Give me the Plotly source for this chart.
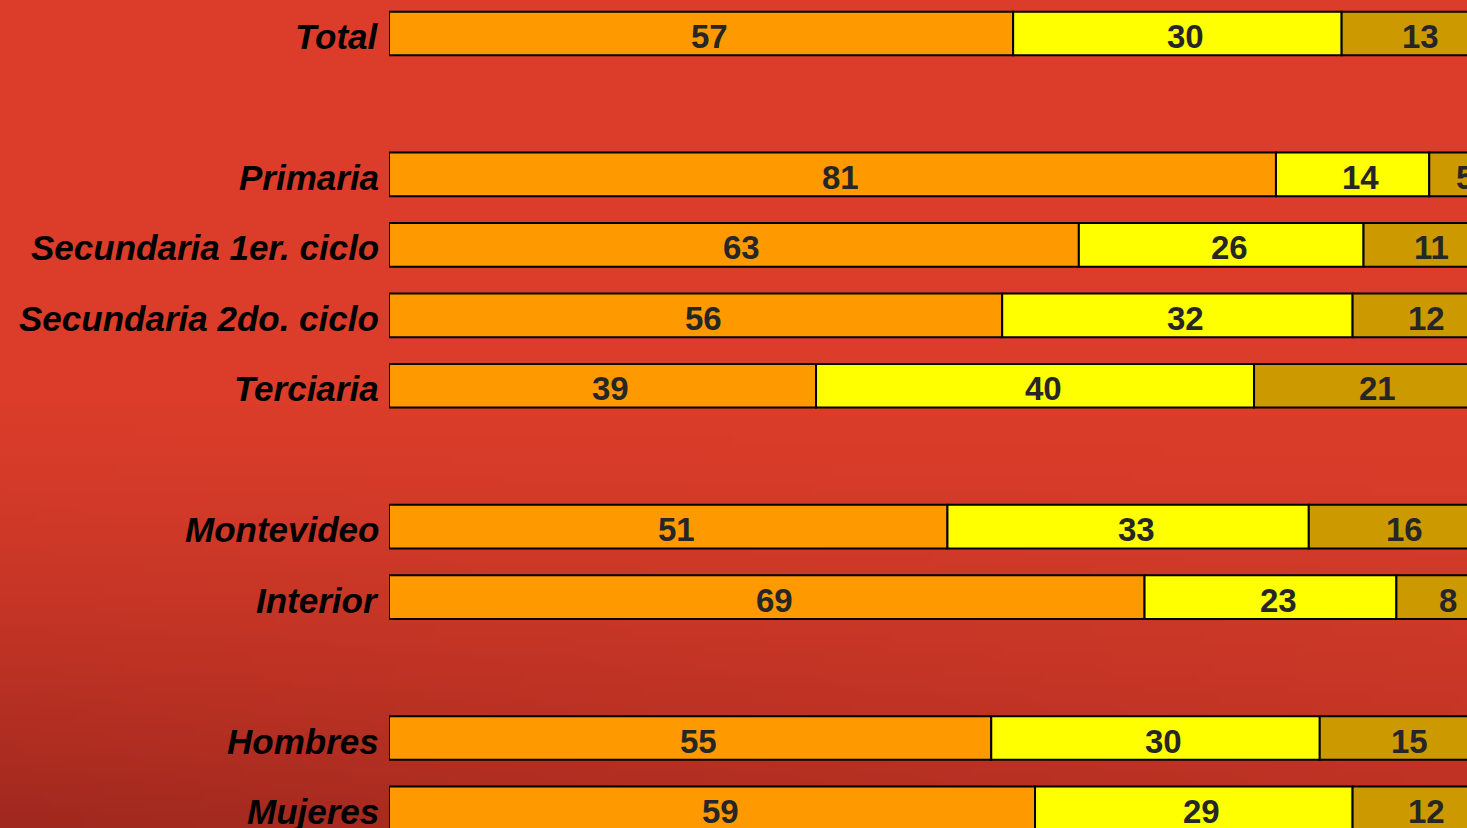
import base64
import struct
import zlib

import plotly.graph_objects as go

# Row groups (a blank row separates consecutive groups)
groups = [
    ["Total"],
    ["Primaria", "Secundaria 1er. ciclo", "Secundaria 2do. ciclo", "Terciaria"],
    ["Montevideo", "Interior"],
    ["Hombres", "Mujeres"],
]

# Percentages per row, in the same order as the labels above
serie_1 = [57, 81, 63, 56, 39, 51, 69, 55, 59]
serie_2 = [30, 14, 26, 32, 40, 33, 23, 30, 29]
serie_3 = [13, 5, 11, 12, 21, 16, 8, 15, 12]

series = [serie_1, serie_2, serie_3]
colors = ["#FF9900", "#FFFF00", "#CC9900"]

W, H = 1467, 828
LEFT = 389

labels, slots = [], []
pos = 0
for g in groups:
    for name in g:
        labels.append(name)
        slots.append(pos)
        pos += 1
    pos += 1  # blank row between groups


def gradient_png(w, h):
    """Small PNG of the red backdrop, darker toward the bottom-left."""
    top = (220, 61, 42)
    dark = (160, 40, 30)
    raw = bytearray()
    for j in range(h):
        raw.append(0)
        fy = j / (h - 1)
        vy = max(0.0, (fy - 0.45) / 0.55) ** 1.4
        for i in range(w):
            fx = i / (w - 1)
            t = min(1.0, vy * (1.0 - 0.45 * fx))
            for c in range(3):
                raw.append(int(round(top[c] + (dark[c] - top[c]) * t)))
    def chunk(tag, data):
        return (struct.pack(">I", len(data)) + tag + data
                + struct.pack(">I", zlib.crc32(tag + data) & 0xFFFFFFFF))
    png = b"\x89PNG\r\n\x1a\n"
    png += chunk(b"IHDR", struct.pack(">IIBBBBB", w, h, 8, 2, 0, 0, 0))
    png += chunk(b"IDAT", zlib.compress(bytes(raw), 9))
    png += chunk(b"IEND", b"")
    return "data:image/png;base64," + base64.b64encode(png).decode()


fig = go.Figure()
bases = [0] * len(labels)
annotations = []
for vals, col in zip(series, colors):
    fig.add_trace(go.Bar(
        y=slots, x=vals, base=bases, orientation="h",
        marker=dict(color=col, line=dict(color="#000000", width=2)),
        width=0.62, showlegend=False, hoverinfo="skip",
    ))
    for b, v, s in zip(bases, vals, slots):
        annotations.append(dict(
            x=b + v / 2, y=s, xref="x", yref="y", text=str(v),
            showarrow=False, xshift=8, yshift=-3,
            font=dict(family="Liberation Sans", size=33, color="#262626", weight="bold"),
        ))
    bases = [b + v for b, v in zip(bases, vals)]

# Row labels, right-aligned just left of the bars
for name, s in zip(labels, slots):
    annotations.append(dict(
        x=0, y=s, xref="paper", yref="y", text=name,
        showarrow=False, xanchor="right", xshift=-8, yshift=-3,
        font=dict(family="Liberation Sans", size=35, color="#000000",
                  weight="bold", style="italic"),
    ))

plot_w = W - LEFT
px_per_unit = 10.95
px_per_slot = 70.45
top_center = 33.5

fig.update_layout(
    width=W, height=H,
    margin=dict(l=LEFT, r=0, t=0, b=0, pad=0),
    paper_bgcolor="#DC3D2A",
    plot_bgcolor="rgba(0,0,0,0)",
    barmode="overlay",
    annotations=annotations,
    images=[dict(
        source=gradient_png(147, 83), xref="paper", yref="paper",
        x=-LEFT / plot_w, y=1, sizex=W / plot_w, sizey=1,
        sizing="stretch", xanchor="left", yanchor="top", layer="below",
    )],
    xaxis=dict(
        range=[0, plot_w / px_per_unit], visible=False, fixedrange=True,
    ),
    yaxis=dict(
        range=[(H - top_center) / px_per_slot, -top_center / px_per_slot],
        showgrid=False, zeroline=False, showline=False, ticks="",
        showticklabels=False, fixedrange=True,
    ),
)

fig.write_html("out.html")
